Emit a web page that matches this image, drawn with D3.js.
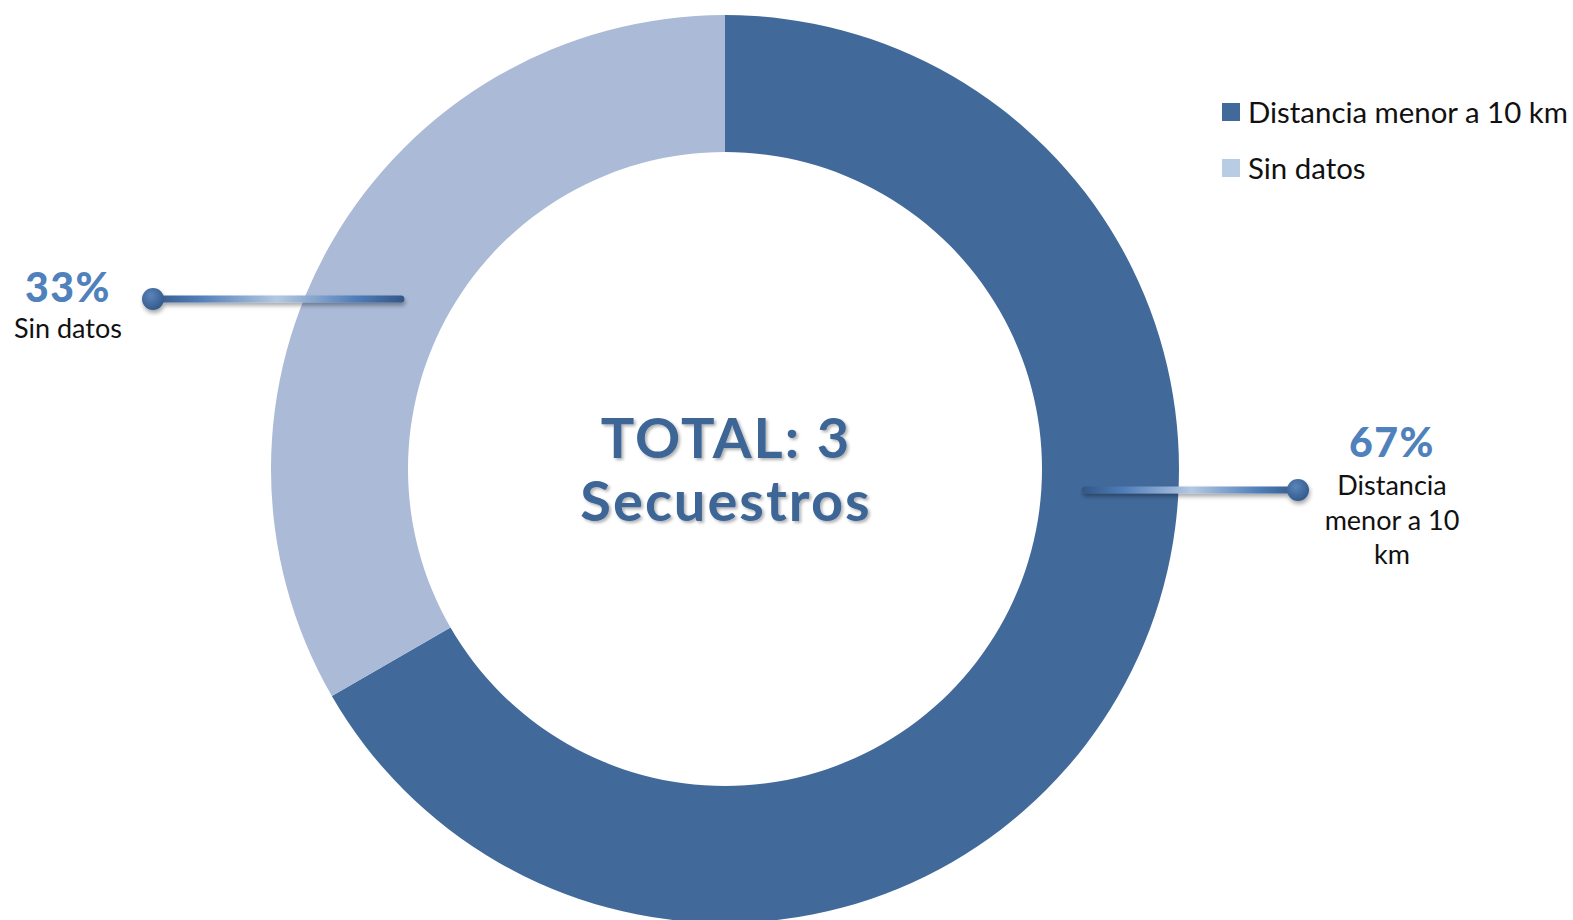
<!DOCTYPE html>
<html lang="es">
<head>
  <meta charset="UTF-8" />
  <title>Secuestros</title>
  <style>
    body { margin: 0; background: #fff; }
    svg { display: block; }
    .lbl { font-family: Lato, "Noto Sans", sans-serif; fill: #111; }
    .pct { font-family: Lato, sans-serif; font-weight: 900; fill: #4f81bd; }
    .total { font-family: Lato, sans-serif; font-weight: 700; fill: #3d6596; }
  </style>
</head>
<body>
  <script src="https://cdn.jsdelivr.net/npm/d3@7"></script>
  <script>
    // data
    const categories = ["Distancia menor a 10 km", "Sin datos"];
    const counts = [2, 1];
    const percentLabels = ["67%", "33%"];
    const labelLines = [["Distancia", "menor a 10", "km"], ["Sin datos"]];
    const totalLines = ["TOTAL: 3", "Secuestros"];

    const width = 1573, height = 920;
    const cx = 725, cy = 469;
    const outerR = 454, innerR = 317;

    const sliceColor = d3.scaleOrdinal().domain(categories).range(["#416a9b", "#abbad7"]);
    const legendColor = d3.scaleOrdinal().domain(categories).range(["#416a9b", "#b8cce4"]);

    const svg = d3.select("body").append("svg")
      .attr("width", width)
      .attr("height", height);

    const defs = svg.append("defs");

    // gradient for the leader lines: dark ends, pale middle
    const grad = defs.append("linearGradient")
      .attr("id", "lineGrad")
      .attr("gradientUnits", "objectBoundingBox")
      .attr("x1", 0).attr("x2", 1).attr("y1", 0).attr("y2", 0);
    [[0, "#34598a"], [0.18, "#4f7db8"], [0.5, "#b4c8e2"], [0.82, "#4f7db8"], [1, "#34598a"]]
      .forEach(s => grad.append("stop").attr("offset", s[0]).attr("stop-color", s[1]));

    const dotGrad = defs.append("radialGradient").attr("id", "dotGrad")
      .attr("cx", 0.4).attr("cy", 0.35).attr("r", 0.7);
    dotGrad.append("stop").attr("offset", 0).attr("stop-color", "#5b84b8");
    dotGrad.append("stop").attr("offset", 1).attr("stop-color", "#30578a");

    const shadow = defs.append("filter").attr("id", "shadow")
      .attr("x", "-20%").attr("y", "-50%").attr("width", "140%").attr("height", "300%");
    shadow.append("feDropShadow").attr("dx", 1).attr("dy", 3).attr("stdDeviation", 2)
      .attr("flood-color", "#000").attr("flood-opacity", 0.35);

    const txtShadow = defs.append("filter").attr("id", "txtShadow")
      .attr("x", "-10%").attr("y", "-20%").attr("width", "120%").attr("height", "140%");
    txtShadow.append("feDropShadow").attr("dx", 2).attr("dy", 2).attr("stdDeviation", 1.5)
      .attr("flood-color", "#000").attr("flood-opacity", 0.3);

    // donut
    const pie = d3.pie().sort(null).value(d => d.value);
    const arc = d3.arc().innerRadius(innerR).outerRadius(outerR);
    const pieData = pie(categories.map((c, i) => ({ name: c, value: counts[i] })));

    const g = svg.append("g").attr("transform", `translate(${cx},${cy})`);
    g.selectAll("path")
      .data(pieData)
      .enter()
      .append("path")
      .attr("d", arc)
      .attr("fill", d => sliceColor(d.data.name));

    // center text
    g.selectAll("text.total")
      .data(totalLines)
      .enter()
      .append("text")
      .attr("class", "total")
      .attr("text-anchor", "middle")
      .attr("x", 1)
      .attr("y", (d, i) => -11 + i * 63)
      .attr("font-size", 56)
      .attr("letter-spacing", 2)
      .attr("filter", "url(#txtShadow)")
      .text(d => d);

    // leader lines + labels (placement picked by hand, like the original)
    const leaders = [
      { line: [1085, 1298], y: 490, dotX: 1298, textX: 1392, pctY: 457, firstY: 495 },
      { line: [153, 401], y: 299, dotX: 153, textX: 68, pctY: 302, firstY: 338 }
    ];

    leaders.forEach((L, i) => {
      const lg = svg.append("g").attr("filter", "url(#shadow)");
      lg.append("line")
        .attr("x1", L.line[0]).attr("x2", L.line[1])
        .attr("y1", L.y).attr("y2", L.y + 0.01)
        .attr("stroke", "url(#lineGrad)")
        .attr("stroke-width", 7)
        .attr("stroke-linecap", "round");
      lg.append("circle")
        .attr("cx", L.dotX).attr("cy", L.y).attr("r", 11)
        .attr("fill", "url(#dotGrad)");

      svg.append("text")
        .attr("class", "pct")
        .attr("x", L.textX).attr("y", L.pctY)
        .attr("text-anchor", "middle")
        .attr("font-size", 41)
        .attr("letter-spacing", 1.5)
        .text(percentLabels[i]);

      svg.append("g").selectAll("text")
        .data(labelLines[i])
        .enter()
        .append("text")
        .attr("class", "lbl")
        .attr("x", L.textX)
        .attr("y", (d, j) => L.firstY + j * 34.5)
        .attr("text-anchor", "middle")
        .attr("font-size", 27)
        .text(d => d);
    });

    // legend
    const legend = svg.append("g").attr("transform", "translate(1222,103)");
    const item = legend.selectAll("g")
      .data(categories)
      .enter()
      .append("g")
      .attr("transform", (d, i) => `translate(0,${i * 56})`);
    item.append("rect")
      .attr("width", 18).attr("height", 18)
      .attr("fill", d => legendColor(d));
    item.append("text")
      .attr("class", "lbl")
      .attr("x", 26).attr("y", 20)
      .attr("font-size", 29.4)
      .text(d => d);
  </script>
</body>
</html>
